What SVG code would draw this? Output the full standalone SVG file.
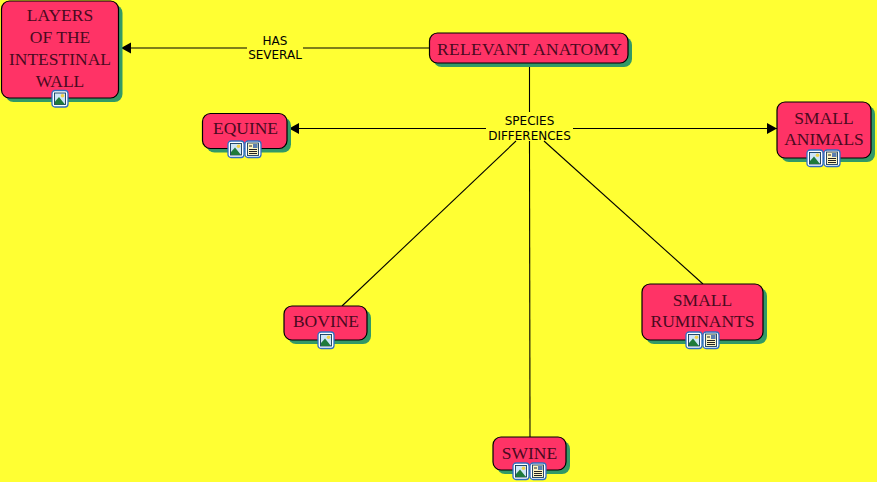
<svg xmlns="http://www.w3.org/2000/svg" width="877" height="482" viewBox="0 0 877 482">
<style>
.shadow{fill:#339966}
.box{fill:#ff3366;stroke:#000;stroke-width:1.2}
.t{font-family:"Liberation Serif",serif;font-size:17.5px;fill:#4a0a20;text-anchor:middle}
.l{font-family:"DejaVu Sans",sans-serif;font-size:12px;fill:#000;text-anchor:middle}
.c{stroke:#000;stroke-width:1.1;fill:none}
</style>
<defs>
<marker id="arrow" markerUnits="userSpaceOnUse" markerWidth="11" markerHeight="12" refX="10" refY="6" orient="auto"><path d="M0 0.500L10 6L0 11.500Z" fill="#000"/></marker>
<g id="pic">
<rect x="0" y="0" width="16" height="16.500" rx="3" fill="#fff" stroke="#2f6fc0" stroke-width="1.3"/>
<rect x="2.500" y="2.500" width="11" height="11.500" fill="#cfe6f7" stroke="#123a5c" stroke-width="0.9"/>
<circle cx="10.500" cy="5.200" r="1.800" fill="#f2d24a"/>
<path d="M3 14L3 11L7 6.500L13 14Z" fill="#1f7a3a"/>
</g>
<g id="doc">
<rect x="0" y="0" width="16" height="16.500" rx="3" fill="#fff" stroke="#2f6fc0" stroke-width="1.3"/>
<rect x="2.500" y="2" width="11" height="12.500" fill="#fbf3c2" stroke="#123a5c" stroke-width="0.9"/>
<rect x="8" y="3" width="4.500" height="4" fill="#5a7fb0"/>
<path d="M4 5H7M4 8.500H12M4 10.500H12M4 12.500H12" stroke="#222" stroke-width="1"/>
</g>
</defs>
<rect width="877" height="482" fill="#ffff33"/>
<g id="connectors">
<path class="c" d="M429 48H303"/>
<path class="c" d="M247 48H121" marker-end="url(#arrow)"/>
<path class="c" d="M529.500 63V112"/>
<path class="c" d="M486 128.500H289" marker-end="url(#arrow)"/>
<path class="c" d="M573 128.500H777" marker-end="url(#arrow)"/>
<path class="c" d="M516 141L342 306"/>
<path class="c" d="M529.500 141L530 437"/>
<path class="c" d="M544 141L703 284"/>
</g>
<g id="label-has-several"><text class="l" x="275" y="45">HAS</text><text class="l" x="275" y="59">SEVERAL</text></g>
<g id="label-species-differences"><text class="l" x="529.500" y="125">SPECIES</text><text class="l" x="529.500" y="139.500">DIFFERENCES</text></g>
<g id="node-layers">
<rect class="shadow" x="5.500" y="5" width="117" height="97" rx="8"/><rect class="box" x="1.500" y="1" width="117" height="97" rx="8"/>
<text class="t" x="60" y="21">LAYERS</text><text class="t" x="60" y="43">OF THE</text><text class="t" x="60" y="65">INTESTINAL</text><text class="t" x="60" y="87">WALL</text>
<use href="#pic" x="52" y="90.500"/>
</g>
<g id="node-relevant">
<rect class="shadow" x="433.500" y="37" width="198.500" height="30" rx="8"/><rect class="box" x="429.500" y="33" width="198.500" height="30" rx="8"/>
<text class="t" x="529.500" y="54.500" textLength="185">RELEVANT ANATOMY</text>
</g>
<g id="node-equine">
<rect class="shadow" x="206.500" y="117.500" width="84.500" height="35" rx="8"/><rect class="box" x="202.500" y="113.500" width="84.500" height="35" rx="8"/>
<text class="t" x="245.500" y="134">EQUINE</text>
<use href="#pic" x="228" y="141"/><use href="#doc" x="245" y="141"/>
</g>
<g id="node-small-animals">
<rect class="shadow" x="781" y="106" width="94" height="56" rx="8"/><rect class="box" x="777" y="102" width="94" height="56" rx="8"/>
<text class="t" x="824" y="124">SMALL</text><text class="t" x="824" y="145">ANIMALS</text>
<use href="#pic" x="807" y="150"/><use href="#doc" x="824" y="150"/>
</g>
<g id="node-bovine">
<rect class="shadow" x="288" y="310" width="83" height="34" rx="8"/><rect class="box" x="284" y="306" width="83" height="34" rx="8"/>
<text class="t" x="326" y="327">BOVINE</text>
<use href="#pic" x="318" y="332"/>
</g>
<g id="node-small-ruminants">
<rect class="shadow" x="646" y="288" width="121" height="56" rx="8"/><rect class="box" x="642" y="284" width="121" height="56" rx="8"/>
<text class="t" x="702.500" y="306">SMALL</text><text class="t" x="702.500" y="327">RUMINANTS</text>
<use href="#pic" x="686" y="332"/><use href="#doc" x="703" y="332"/>
</g>
<g id="node-swine">
<rect class="shadow" x="497" y="441" width="73" height="33" rx="8"/><rect class="box" x="493" y="437" width="73" height="33" rx="8"/>
<text class="t" x="529.500" y="459">SWINE</text>
<use href="#pic" x="513" y="463"/><use href="#doc" x="530" y="463"/>
</g>
</svg>
